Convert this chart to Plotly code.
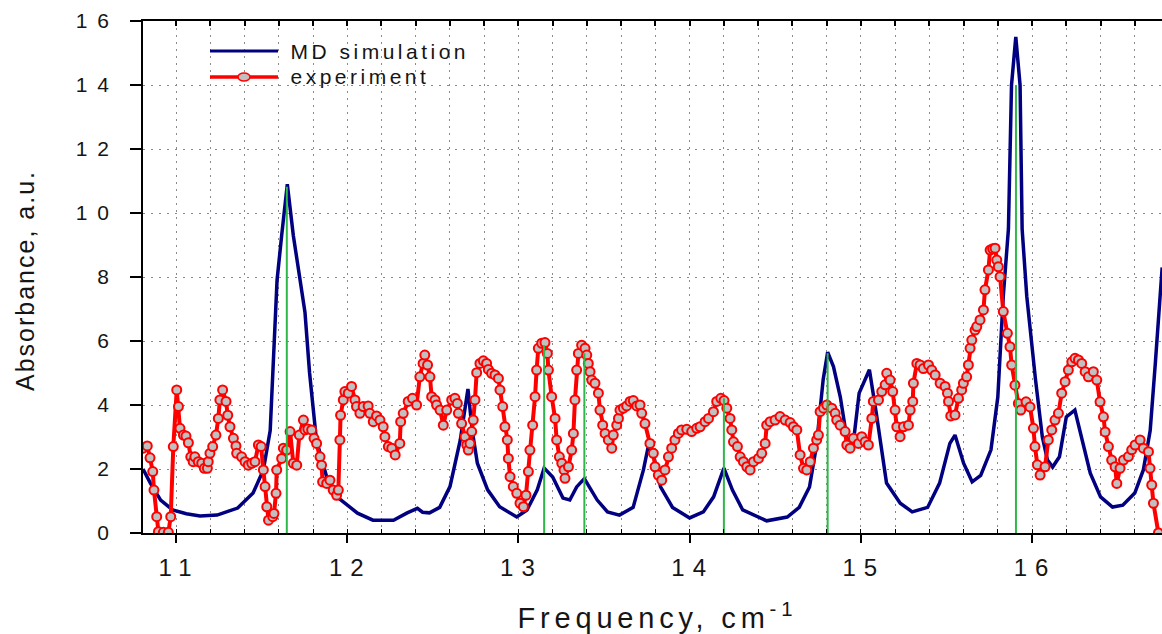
import plotly.graph_objects as go

# ---- MD simulation spectrum (frequency in cm^-1, absorbance in a.u.) ----
md_freq = [10.807, 10.85, 10.91, 10.98, 11.06, 11.14, 11.24, 11.36, 11.45, 11.51,
           11.55, 11.57, 11.59, 11.617, 11.65, 11.685, 11.724, 11.753, 11.78, 11.82,
           11.88, 11.94, 12.06, 12.15, 12.27, 12.35, 12.41, 12.44, 12.48, 12.54,
           12.60, 12.66, 12.705, 12.73, 12.76, 12.82, 12.89, 12.99, 13.05, 13.11,
           13.15, 13.20, 13.26, 13.30, 13.34, 13.385, 13.46, 13.52, 13.59, 13.67,
           13.73, 13.76, 13.79, 13.83, 13.90, 14.00, 14.08, 14.14, 14.20, 14.25,
           14.31, 14.45, 14.57, 14.64, 14.70, 14.74, 14.78, 14.806, 14.84, 14.88,
           14.92, 14.96, 14.99, 15.05, 15.09, 15.15, 15.23, 15.30, 15.39, 15.46,
           15.52, 15.55, 15.60, 15.65, 15.70, 15.76, 15.80, 15.832, 15.862, 15.88,
           15.905, 15.93, 15.942, 15.969, 16.02, 16.06, 16.09, 16.12, 16.16, 16.20,
           16.25, 16.30, 16.34, 16.40, 16.47, 16.53, 16.60, 16.65, 16.69, 16.72,
           16.76]
md_abs = [2.0, 1.56, 1.03, 0.72, 0.6, 0.53, 0.56, 0.78, 1.25, 1.97,
          3.2, 5.6, 7.9, 9.3, 10.9, 9.3, 7.9, 6.9, 5.0, 2.9,
          1.75, 1.13, 0.62, 0.4, 0.4, 0.63, 0.77, 0.65, 0.63, 0.8,
          1.45, 2.9, 4.5, 3.2, 2.18, 1.35, 0.82, 0.5, 0.72, 1.35,
          2.03, 1.75, 1.09, 1.03, 1.44, 1.7, 1.03, 0.66, 0.56, 0.8,
          1.97, 2.75, 2.4, 1.44, 0.8, 0.47, 0.66, 1.13, 2.03, 1.34,
          0.72, 0.38, 0.5, 0.8, 1.44, 2.7, 4.8, 5.65, 5.2, 4.25,
          2.9, 3.0, 4.37, 5.1, 3.75, 1.56, 0.93, 0.66, 0.8, 1.56,
          2.8, 3.06, 2.18, 1.6, 1.8, 2.6, 4.25, 7.4, 9.5, 14.0,
          15.5, 14.0, 9.5, 7.4, 4.8, 3.0, 2.28, 2.06, 2.38, 3.63,
          3.84, 2.8, 1.87, 1.13, 0.81, 0.87, 1.25, 1.97, 3.2, 5.3,
          8.3]

# ---- measured spectrum ----
exp_freq = [10.807, 10.832, 10.848, 10.864, 10.871, 10.887, 10.897, 10.926, 10.955, 10.969,
            10.984, 11.004, 11.014, 11.023, 11.043, 11.058, 11.072, 11.086, 11.10, 11.11,
            11.13, 11.15, 11.165, 11.183, 11.188, 11.198, 11.214, 11.233, 11.247, 11.256,
            11.272, 11.292, 11.302, 11.315, 11.335, 11.35, 11.354, 11.383, 11.403, 11.422,
            11.442, 11.461, 11.481, 11.497, 11.51, 11.52, 11.53, 11.54, 11.565, 11.572,
            11.584, 11.588, 11.617, 11.627, 11.646, 11.666, 11.685, 11.705, 11.72, 11.744,
            11.753, 11.77, 11.792, 11.806, 11.821, 11.841, 11.85, 11.856, 11.88, 11.899,
            11.918, 11.938, 11.948, 11.957, 11.961, 11.977, 11.986, 12.006, 12.025, 12.045,
            12.054, 12.074, 12.093, 12.122, 12.132, 12.152, 12.171, 12.191, 12.21, 12.22,
            12.24, 12.26, 12.28, 12.307, 12.312, 12.327, 12.356, 12.381, 12.405, 12.424,
            12.443, 12.453, 12.469, 12.483, 12.493, 12.513, 12.522, 12.542, 12.561, 12.581,
            12.61, 12.629, 12.643, 12.649, 12.668, 12.688, 12.698, 12.707, 12.717, 12.727,
            12.736, 12.746, 12.756, 12.775, 12.795, 12.814, 12.824, 12.843, 12.863, 12.883,
            12.892, 12.908, 12.921, 12.935, 12.941, 12.951, 12.97, 12.99, 13.009, 13.029,
            13.044, 13.058, 13.067, 13.083, 13.097, 13.106, 13.116, 13.136, 13.155, 13.169,
            13.175, 13.194, 13.214, 13.223, 13.239, 13.253, 13.266, 13.272, 13.292, 13.311,
            13.321, 13.33, 13.34, 13.35, 13.369, 13.389, 13.399, 13.408, 13.418, 13.428,
            13.447, 13.467, 13.476, 13.492, 13.506, 13.525, 13.545, 13.554, 13.574, 13.584,
            13.593, 13.613, 13.632, 13.652, 13.671, 13.691, 13.71, 13.72, 13.739, 13.768,
            13.788, 13.798, 13.817, 13.837, 13.856, 13.876, 13.895, 13.914, 13.934, 13.953,
            13.983, 14.012, 14.041, 14.061, 14.09, 14.11, 14.139, 14.158, 14.182, 14.201,
            14.217, 14.236, 14.246, 14.256, 14.279, 14.295, 14.314, 14.334, 14.353, 14.373,
            14.402, 14.421, 14.441, 14.45, 14.47, 14.499, 14.528, 14.558, 14.587, 14.606,
            14.626, 14.645, 14.665, 14.684, 14.704, 14.723, 14.742, 14.752, 14.762, 14.782,
            14.801, 14.83, 14.85, 14.859, 14.879, 14.908, 14.918, 14.937, 14.957, 14.986,
            15.005, 15.025, 15.044, 15.064, 15.073, 15.103, 15.122, 15.142, 15.151, 15.171,
            15.186, 15.20, 15.21, 15.229, 15.249, 15.278, 15.288, 15.303, 15.307, 15.327,
            15.346, 15.365, 15.395, 15.414, 15.434, 15.463, 15.492, 15.506, 15.512, 15.525,
            15.55, 15.57, 15.589, 15.599, 15.618, 15.628, 15.638, 15.648, 15.667, 15.677,
            15.696, 15.716, 15.725, 15.745, 15.755, 15.77, 15.784, 15.794, 15.803, 15.813,
            15.832, 15.856, 15.871, 15.881, 15.90, 15.92, 15.934, 15.965, 15.988, 16.008,
            16.017, 16.031, 16.047, 16.076, 16.095, 16.115, 16.134, 16.154, 16.173, 16.193,
            16.212, 16.232, 16.251, 16.271, 16.29, 16.31, 16.329, 16.358, 16.378, 16.397,
            16.417, 16.427, 16.446, 16.465, 16.485, 16.495, 16.514, 16.534, 16.563, 16.582,
            16.602, 16.631, 16.65, 16.68, 16.689, 16.699, 16.709, 16.738]
exp_abs = [2.65, 2.72, 2.35, 1.92, 1.34, 0.51, 0.04, 0.02, 0.02, 0.51,
           2.70, 4.47, 3.95, 3.27, 3.06, 3.03, 2.82, 2.38, 2.23, 2.38,
           2.23, 2.18, 2.02, 2.02, 2.23, 2.49, 2.70, 3.06, 3.58, 4.16,
           4.47, 4.11, 3.68, 3.32, 2.96, 2.72, 2.49, 2.38, 2.23, 2.12,
           2.18, 2.23, 2.75, 2.70, 1.97, 1.45, 0.82, 0.40, 0.51, 0.61,
           1.24, 1.97, 2.33, 2.65, 2.59, 3.17, 2.18, 2.12, 3.06, 3.53,
           3.22, 3.25, 3.22, 2.96, 2.80, 2.38, 2.12, 1.60, 1.55, 1.65,
           1.34, 1.18, 1.34, 2.91, 3.68, 4.16, 4.42, 4.37, 4.58, 4.16,
           3.95, 3.74, 3.95, 3.97, 3.74, 3.48, 3.66, 3.53, 3.32, 3.01,
           2.70, 2.65, 2.44, 2.80, 3.48, 3.74, 4.11, 4.21, 4.00, 4.88,
           5.30, 5.56, 5.25, 4.88, 4.26, 4.16, 4.00, 3.84, 3.37, 3.84,
           4.16, 4.21, 4.05, 3.74, 3.42, 3.01, 2.75, 2.59, 2.80, 3.17,
           3.53, 4.16, 5.01, 5.30, 5.38, 5.30, 5.11, 4.99, 4.94, 4.83,
           4.47, 3.95, 3.32, 2.91, 2.33, 1.76, 1.45, 1.24, 0.93, 0.82,
           1.18, 1.92, 2.59, 3.37, 4.26, 5.09, 5.77, 5.93, 5.95, 5.61,
           5.09, 4.26, 3.58, 2.91, 2.38, 2.18, 1.97, 1.71, 2.07, 2.59,
           3.11, 4.16, 5.09, 5.61, 5.87, 5.77, 5.56, 5.30, 5.04, 4.78,
           4.68, 4.37, 3.84, 3.37, 3.11, 2.91, 2.65, 3.06, 3.37, 3.58,
           3.84, 3.90, 3.97, 4.11, 4.14, 3.97, 4.00, 3.74, 3.42, 2.80,
           2.49, 2.07, 1.81, 1.65, 1.97, 2.38, 2.65, 2.91, 3.11, 3.22,
           3.24, 3.17, 3.27, 3.32, 3.48, 3.58, 3.79, 4.11, 4.21, 4.14,
           3.90, 3.58, 3.22, 2.85, 2.70, 2.38, 2.23, 2.07, 1.97, 2.23,
           2.33, 2.49, 2.80, 3.37, 3.48, 3.53, 3.64, 3.53, 3.45, 3.32,
           3.22, 2.44, 2.02, 1.97, 2.23, 2.65, 2.91, 3.06, 3.79, 3.90,
           4.00, 3.90, 3.74, 3.53, 3.37, 3.17, 2.75, 2.65, 2.96, 2.80,
           3.01, 2.85, 2.75, 3.58, 4.11, 4.16, 4.42, 4.63, 4.99, 4.78,
           4.42, 3.84, 3.32, 3.01, 3.32, 3.37, 3.84, 4.11, 4.68, 5.30,
           5.25, 5.14, 5.25, 5.09, 4.94, 4.68, 4.58, 4.37, 4.11, 3.66,
           3.69, 4.21, 4.47, 4.68, 4.88, 5.25, 5.77, 6.03, 6.34, 6.45,
           6.66, 6.97, 7.60, 8.22, 8.84, 8.88, 8.90, 8.53, 8.32, 8.01,
           6.92, 6.24, 5.82, 5.25, 4.62, 4.05, 3.84, 4.10, 3.94, 3.27,
           2.70, 2.13, 1.81, 2.07, 2.91, 3.22, 3.53, 3.74, 4.37, 4.73,
           5.09, 5.35, 5.46, 5.41, 5.30, 5.04, 4.88, 5.04, 4.78, 4.10,
           3.63, 3.16, 2.70, 2.28, 2.07, 1.55, 2.02, 2.28, 2.39, 2.60,
           2.75, 2.91, 2.65, 2.54, 2.02, 1.50, 0.93, 0.00]

# ---- calculated line positions (stick spectrum) ----
stick_freq = [11.647, 13.15, 13.385, 14.20, 14.806, 15.906]
stick_abs = [10.82, 5.87, 5.62, 4.21, 5.62, 13.97]

# axis settings
x_range = [10.807, 16.759]
y_range = [0, 16]
x_ticks = [11, 12, 13, 14, 15, 16]
y_ticks = [0, 2, 4, 6, 8, 10, 12, 14, 16]

NAVY = "#000080"
RED = "#ff0000"
GREEN = "#2fb84a"
GRID = "#8a8a8a"
TXT = "#151515"
FONT = "Liberation Sans, Arial, sans-serif"

fig = go.Figure()

fig.add_trace(go.Scatter(
    x=md_freq, y=md_abs, mode="lines", name="MD simulation",
    line=dict(color=NAVY, width=3.5), showlegend=False))

fig.add_trace(go.Scatter(
    x=exp_freq, y=exp_abs, mode="lines+markers", name="experiment",
    line=dict(color=RED, width=4),
    marker=dict(symbol="circle", size=9, color="#c0c0c0",
                line=dict(color=RED, width=2)),
    showlegend=False))

# sticks: one vertical segment per line position, from zero up to its height
sx, sy = [], []
for f, a in zip(stick_freq, stick_abs):
    sx += [f, f, None]
    sy += [0, a, None]
fig.add_trace(go.Scatter(x=sx, y=sy, mode="lines", line=dict(color=GREEN, width=2),
                         showlegend=False, hoverinfo="skip"))

# empty trace so the top (minor-tick) axis gets drawn
fig.add_trace(go.Scatter(x=[], y=[], xaxis="x2", showlegend=False, hoverinfo="skip"))

fig.update_layout(
    width=1162, height=634,
    margin=dict(l=143, r=0, t=21, b=101),
    paper_bgcolor="white", plot_bgcolor="white",
    font=dict(family=FONT, color=TXT),
    xaxis=dict(
        range=x_range, tickvals=x_ticks, ticks="outside", ticklen=8, tickwidth=1.5,
        tickcolor="black", showline=True, linecolor="black", linewidth=2, mirror=True,
        showgrid=True, gridcolor=GRID, gridwidth=1, griddash="2px,5px",
        zeroline=False, tickfont=dict(size=24, family=FONT, color=TXT),
        minor=dict(dtick=0.2, tick0=11, ticks="inside", ticklen=4, tickwidth=1.2,
                   tickcolor="black", showgrid=True, gridcolor=GRID, gridwidth=1,
                   griddash="2px,5px"),
    ),
    xaxis2=dict(
        overlaying="x", side="top", anchor="y", range=x_range,
        tickvals=x_ticks, ticks="", showticklabels=False, showgrid=False,
        showline=False, zeroline=False,
        minor=dict(dtick=0.2, tick0=11, ticks="inside", ticklen=5, tickwidth=1.5,
                   tickcolor="black", showgrid=False),
    ),
    yaxis=dict(
        range=y_range, tickvals=y_ticks, ticks="outside", ticklen=11, tickwidth=1.5,
        tickcolor="black", showline=True, linecolor="black", linewidth=2,
        showgrid=True, gridcolor=GRID, gridwidth=1, griddash="2px,6px",
        zeroline=False, tickfont=dict(size=21, family=FONT, color=TXT),
    ),
)

# axis titles
fig.add_annotation(text="Frequency, cm<sup>-1</sup>", xref="paper", yref="paper",
                   x=0.5, y=0, yshift=-60, xanchor="center", yanchor="top",
                   showarrow=False, font=dict(size=29, family=FONT, color=TXT))
fig.add_annotation(text="Absorbance, a.u.", xref="paper", yref="paper",
                   x=0, y=0.5, xshift=-118, xanchor="center", yanchor="middle",
                   textangle=-90, showarrow=False,
                   font=dict(size=25, family=FONT, color=TXT))

# legend box (top-left inside the plot)
def px_x(p):
    return (p - 143) / 1019.0


def px_y(p):
    return (533 - p) / 512.0


fig.add_shape(type="line", xref="paper", yref="paper",
              x0=px_x(210), x1=px_x(278), y0=px_y(51), y1=px_y(51),
              line=dict(color=NAVY, width=3))
fig.add_shape(type="line", xref="paper", yref="paper",
              x0=px_x(210), x1=px_x(278), y0=px_y(77), y1=px_y(77),
              line=dict(color=RED, width=3.5))
fig.add_shape(type="circle", xref="paper", yref="paper",
              xsizemode="pixel", ysizemode="pixel",
              xanchor=px_x(244), yanchor=px_y(77), x0=-6, x1=6, y0=-4, y1=4,
              fillcolor="#c0c0c0", line=dict(color=RED, width=1.5))
fig.add_annotation(text="MD simulation", xref="paper", yref="paper",
                   x=px_x(291), y=px_y(51), xanchor="left", yanchor="middle",
                   align="left", showarrow=False,
                   font=dict(size=21, family=FONT, color=TXT))
fig.add_annotation(text="experiment", xref="paper", yref="paper",
                   x=px_x(291), y=px_y(77), xanchor="left", yanchor="middle",
                   align="left", showarrow=False,
                   font=dict(size=21, family=FONT, color=TXT))

# After drawing: widen the character spacing of the labels and put each
# label back where it belongs (spacing moves the ink of anchored text).
post_js = """
var gd = document.getElementById('{plot_id}');
var org = gd.getBoundingClientRect();
function rect(el) {
  var b = el.getBoundingClientRect();
  return {l: b.left - org.left, r: b.right - org.left, t: b.top - org.top,
          b: b.bottom - org.top, cx: (b.left + b.right) / 2 - org.left,
          cy: (b.top + b.bottom) / 2 - org.top};
}
function shift(el, DX, DY) {
  var m = el.parentNode.getScreenCTM().inverse();
  var lx = m.a * DX + m.c * DY, ly = m.b * DX + m.d * DY;
  var t = el.getAttribute('transform') || '';
  el.setAttribute('transform', 'translate(' + lx + ',' + ly + ') ' + t);
}
// x tick labels: centred under their ticks
gd.querySelectorAll('.xtick text').forEach(function (t) {
  var c0 = rect(t).cx, sp = 8;
  t.setAttribute('letter-spacing', sp + 'px');
  var b = rect(t);
  shift(t, (c0 + sp / 2 - 1) - b.cx, 580.6 - b.b);
});
// y tick labels: right-aligned next to the axis
gd.querySelectorAll('.ytick text').forEach(function (t) {
  var sp = 10;
  t.setAttribute('letter-spacing', sp + 'px');
  var b = rect(t);
  shift(t, (109 + sp) - b.r, 0);
});
gd.querySelectorAll('.annotation-text').forEach(function (t) {
  var s = t.textContent, b;
  if (s.indexOf('Frequency') === 0) {
    t.setAttribute('letter-spacing', '4.8px');
    b = rect(t);
    shift(t, (655 + 2.4) - b.cx, 634.1 - b.b);
  } else if (s.indexOf('Absorbance') === 0) {
    t.setAttribute('letter-spacing', '2px');
    b = rect(t);
    shift(t, 11 - b.l, 280.5 - b.cy);
  } else if (s.indexOf('MD') === 0) {
    t.setAttribute('letter-spacing', '3.5px');
    b = rect(t);
    shift(t, 290.5 - b.l, 62.8 - b.b);
  } else {
    t.setAttribute('letter-spacing', '3.5px');
    b = rect(t);
    shift(t, 290.5 - b.l, 87.8 - b.b);
  }
});
"""

fig.write_html("out.html", post_script=post_js)
